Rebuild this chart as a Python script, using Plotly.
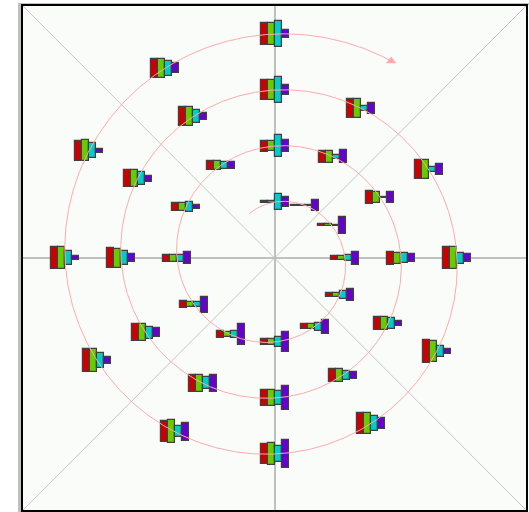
import math
import plotly.graph_objects as go

# Four measurements per station; stations run clockwise along the spiral,
# one every 30 degrees, starting at the top of the innermost turn.
red_vals = [2.0, 1.7, 1.7, 3.5, 3.7, 5.3, 5.3, 7.3, 7.3, 7.0, 7.7, 9.0,
            11.0, 11.7, 13.0, 13.0, 13.0, 13.0, 15.3, 17.0, 17.0, 19.3, 17.0, 19.3,
            19.7, 19.0, 19.0, 21.7, 23.0, 21.0, 20.0, 21.0, 23.0, 21.7, 19.7, 19.0,
            21.7]
green_vals = [2.0, 1.7, 1.7, 3.5, 3.7, 5.3, 5.3, 5.3, 5.3, 7.0, 7.7, 9.0,
              9.3, 11.7, 11.0, 11.0, 13.0, 13.0, 15.3, 17.0, 17.0, 19.0, 17.0, 19.0,
              19.7, 19.0, 19.0, 21.7, 21.0, 21.0, 21.3, 23.3, 23.0, 21.7, 21.0, 19.0,
              21.7]
cyan_vals = [15.3, 0.4, 0.4, 5.5, 8.0, 8.0, 10.0, 7.3, 5.3, 7.0, 9.7, 7.0,
             21.7, 4.7, 1.0, 9.3, 11.0, 9.0, 13.3, 11.7, 11.7, 14.0, 13.0, 12.7,
             25.7, 5.0, 5.0, 11.0, 11.0, 15.0, 15.3, 11.3, 15.0, 13.7, 15.3, 15.0,
             25.7]
purple_vals = [9.7, 11.7, 17.3, 13.0, 12.0, 13.7, 19.3, 21.0, 15.7, 12.0, 3.7, 7.0,
               11.3, 13.0, 11.0, 7.3, 5.0, 7.0, 23.3, 17.0, 9.0, 7.3, 5.7, 7.3,
               9.7, 11.0, 11.0, 7.3, 5.0, 11.0, 27.3, 17.7, 7.3, 4.3, 3.7, 9.7,
               7.7]

series = [
    (red_vals, "#cc0000"),
    (green_vals, "#66cc00"),
    (cyan_vals, "#00cccc"),
    (purple_vals, "#6600cc"),
]

# Spiral geometry (plot units ~ screen pixels)
R_START = 56.0          # radius of the first station
R_PER_TURN = 56.0       # radial growth per full turn
STEP_DEG = 30.0         # angular spacing between stations
BAR_W = 7.0
OUTLINE = "#404040"


def spiral_xy(phi_deg):
    """phi measured clockwise from the top, in degrees."""
    r = R_START + R_PER_TURN * phi_deg / 360.0
    a = math.radians(90.0 - phi_deg)
    return r * math.cos(a), r * math.sin(a)


n = len(red_vals)
centers = [spiral_xy(k * STEP_DEG) for k in range(n)]

X0, X1 = -253.0, 252.0
Y0, Y1 = -253.0, 253.0

fig = go.Figure()

# diagonal guide lines through the centre
for xs, ys in (([X0, X1], [Y1, Y0]), ([X0, X1], [Y0, Y1])):
    fig.add_trace(go.Scatter(x=xs, y=ys, mode="lines",
                             line=dict(color="#b8b8b8", width=0.8),
                             hoverinfo="skip"))

# spiral path with arrow head at its end
phis = [p * 0.5 for p in range(-60, 2222)]
sp = [spiral_xy(p) for p in phis]
fig.add_trace(go.Scatter(x=[p[0] for p in sp], y=[p[1] for p in sp], mode="lines",
                         line=dict(color="#ffaaaa", width=1), hoverinfo="skip"))
fig.add_trace(go.Scatter(x=[sp[-1][0]], y=[sp[-1][1]], mode="markers",
                         marker=dict(symbol="triangle-up", size=9, color="#ffaaaa",
                                     line=dict(width=0)),
                         hoverinfo="skip"))

# one small bar group per station
for i, (vals, color) in enumerate(series):
    offset = (i - 1.5) * BAR_W
    fig.add_trace(go.Bar(
        x=[c[0] + offset for c in centers],
        y=vals,
        base=[c[1] - v / 2.0 for c, v in zip(centers, vals)],
        width=BAR_W,
        marker=dict(color=color, line=dict(color=OUTLINE, width=1.2)),
        hoverinfo="skip",
    ))

axis_common = dict(showgrid=False, showticklabels=False, ticks="",
                   zeroline=True, zerolinecolor="#c0c0c0", zerolinewidth=1.5,
                   showline=False, fixedrange=True)

fig.update_layout(
    width=529, height=512,
    margin=dict(l=22, r=2, t=5, b=1),
    paper_bgcolor="white",
    plot_bgcolor="#fafcfa",
    barmode="overlay",
    bargap=0,
    showlegend=False,
    xaxis=dict(range=[X0, X1], **axis_common),
    yaxis=dict(range=[Y0, Y1], **axis_common),
    shapes=[
        # grey frame strips on the top and left
        dict(type="rect", xref="paper", yref="paper",
             x0=-4 / 505, x1=507 / 505, y0=1.0, y1=1 + 2 / 506,
             fillcolor="#c0c0c0", line=dict(width=0), layer="below"),
        dict(type="rect", xref="paper", yref="paper",
             x0=-4 / 505, x1=0, y0=-1 / 506, y1=1 + 2 / 506,
             fillcolor="#c0c0c0", line=dict(width=0), layer="below"),
        # black border of the plot box
        dict(type="rect", xref="paper", yref="paper",
             x0=0, x1=1, y0=0, y1=1,
             line=dict(color="black", width=2), layer="above"),
    ],
)

fig.write_html("out.html")
